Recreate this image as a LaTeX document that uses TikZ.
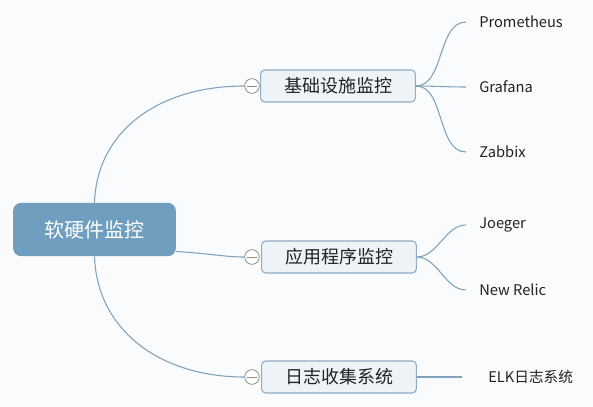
\documentclass[tikz,border=0pt]{standalone}
\usepackage{fontspec}
\setmainfont{Noto Sans CJK SC}
\usepackage{xcolor}
\usetikzlibrary{calc}
\definecolor{rootblue}{HTML}{6F9EBE}
\definecolor{linkblue}{HTML}{7FA2BD}
\definecolor{boxfill}{HTML}{EEF3F8}
\definecolor{boxline}{HTML}{8DACC6}
\definecolor{markgray}{HTML}{8A8A8A}
\definecolor{inkdark}{HTML}{222222}
\definecolor{paper}{HTML}{FAFBFC}
\tikzset{
  rootbox/.style={fill=rootblue, rounded corners=6pt, text=white, font=\fontsize{15}{15}\selectfont,
    minimum width=122pt, minimum height=40pt, inner sep=0pt},
  topicbox/.style={draw=boxline, fill=boxfill, rounded corners=3pt, text=inkdark, line width=0.8pt,
    font=\fontsize{13.5}{13.5}\selectfont, minimum width=116pt, minimum height=24pt, inner sep=0pt},
  leafnode/.style={anchor=west, text=inkdark, font=\fontsize{11}{11}\selectfont, inner xsep=9.75pt, inner ysep=0pt},
  foldmark/.style={draw=markgray, fill=white, circle, line width=0.6pt, minimum size=11pt, inner sep=0pt},
  link/.style={draw=linkblue, line width=0.8pt}
}
\begin{document}
\begin{tikzpicture}[x=0.75pt,y=-0.75pt]
\fill [paper] (0,0) rectangle (593,407);
\useasboundingbox (0,0) rectangle (593,407);
\node [rootbox] (root) at (94.5,229.5) {软硬件监控};
\node [topicbox] (t1) at (338,86) {基础设施监控};
\node [topicbox] (t2) at (339,257) {应用程序监控};
\node [topicbox] (t3) at (339,377) {日志收集系统};
\node [foldmark] (m1) at (252,86) {};
\node [foldmark] (m2) at (252,257) {};
\node [foldmark] (m3) at (252,377) {};
\foreach \m in {m1,m2,m3}
  \draw [markgray, line width=0.6pt] ($(\m.center)+(-5,0)$) -- ($(\m.center)+(5,0)$);
\draw [link] (root.north) .. controls (97,130) and (160,86) .. (m1.west);
\draw [link] (root.east) ++(0,22) .. controls (215,254) and (225,257) .. (m2.west);
\draw [link] (root.south) .. controls (97,330) and (160,377) .. (m3.west);
\node [leafnode] (p1) at (466,22) {Prometheus};
\node [leafnode] (p2) at (466,87) {Grafana};
\node [leafnode] (p3) at (466,152) {Zabbix};
\node [leafnode] (p4) at (466,225) {Joeger};
\node [leafnode] (p5) at (466,290) {New Relic};
\node [leafnode, inner xsep=19.5pt] (p6) at (462,377) {ELK日志系统};
\foreach \p in {p1,p2,p3}
  \draw [link] (t1.east) to [out=0, in=180, looseness=0.9] (\p.west);
\foreach \p in {p4,p5}
  \draw [link] (t2.east) to [out=0, in=180, looseness=0.9] (\p.west);
\draw [link] (t3.east) -- (p6.west);
\end{tikzpicture}
\end{document}
